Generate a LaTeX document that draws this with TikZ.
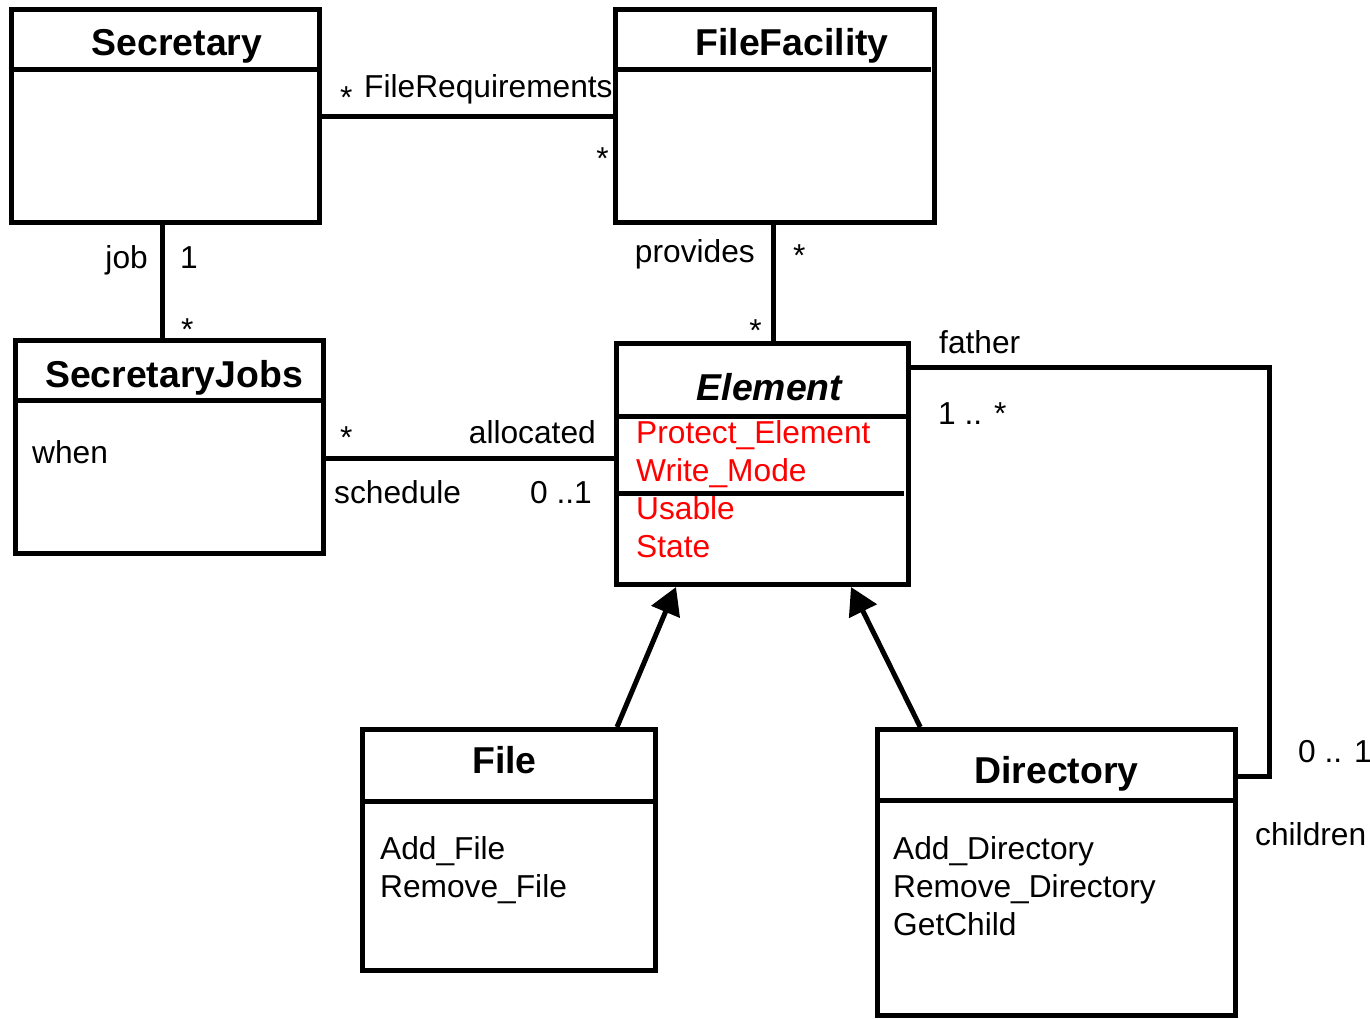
\documentclass[tikz,border=0pt]{standalone}
\usepackage{fontspec}
\setmainfont{Liberation Sans}
\usetikzlibrary{arrows.meta}
\definecolor{attrred}{RGB}{255,0,0}
\begin{document}
\begin{tikzpicture}[x=1pt,y=-1pt,
  classbox/.style={draw, rectangle, line width=5pt, inner sep=0pt},
  title/.style={font=\fontsize{37.4}{44}\selectfont\bfseries, inner sep=0pt, anchor=base},
  lbl/.style={font=\fontsize{31.7}{38}\selectfont, inner sep=0pt},
  lbll/.style={lbl, anchor=base west},
  lblr/.style={lbl, anchor=base east},
  attr/.style={lbll, text=attrred},
  rule/.style={line width=5pt},
  assoc/.style={line width=5pt, line join=miter},
  gen/.style={line width=5pt, -{Triangle[length=27pt,width=30pt]}}]

\useasboundingbox (0,0) rectangle (1370,1018);

% ---- classes ----
\node[classbox, minimum width=308.5pt, minimum height=213pt] (sec)  at (165.25,116.2) {};
\node[classbox, minimum width=319.5pt, minimum height=213pt] (ff)   at (774.75,116.2) {};
\node[classbox, minimum width=308pt,   minimum height=213pt] (sj)   at (169,446.5) {};
\node[classbox, minimum width=292pt,   minimum height=241pt] (el)   at (762,464) {};
\node[classbox, minimum width=293pt,   minimum height=240.5pt] (file) at (509,849.75) {};
\node[classbox, minimum width=358.5pt, minimum height=286pt] (dir)  at (1056.25,872.5) {};

% compartment rules
\draw[rule] (sec.west |- 0,69) -- (sec.east |- 0,69);
\draw[rule] (ff.west |- 0,69) -- (931,69);
\draw[rule] (sj.west |- 0,400) -- (sj.east |- 0,400);
\draw[rule] (el.west |- 0,416) -- (el.east |- 0,416);
\draw[rule] (el.west |- 0,493.5) -- (904,493.5);
\draw[rule] (file.west |- 0,801) -- (file.east |- 0,801);
\draw[rule] (dir.west |- 0,800.5) -- (dir.east |- 0,800.5);

% class names
\node[title] (secT)  at (177,55)    {Secretary};
\node[title] (ffT)   at (792,55)    {FileFacility};
\node[title] (sjT)   at (174,387)   {SecretaryJobs};
\node[title, font=\fontsize{37.4}{44}\selectfont\bfseries\itshape] (elT) at (769.5,400) {Element};
\node[title] (fileT) at (504.5,773) {File};
\node[title] (dirT)  at (1056.5,783) {Directory};

% attributes and operations
\node[lbll] (sjA)  at (32,463)  {when};
\node[attr] (elA1) at (636,443) {Protect\_Element};
\node[attr] (elA2) at (636,481) {Write\_Mode};
\node[attr] (elA3) at (636,519) {Usable};
\node[attr] (elA4) at (636,557) {State};
\node[lbll] (fileO1) at (380,859) {Add\_File};
\node[lbll] (fileO2) at (380,897) {Remove\_File};
\node[lbll] (dirO1)  at (893,859) {Add\_Directory};
\node[lbll] (dirO2)  at (893,897) {Remove\_Directory};
\node[lbll] (dirO3)  at (893,935) {GetChild};

% ---- associations ----
\draw[assoc] (sec.east) -- (ff.west);
\draw[assoc] (sec.south -| 162,0) -- (sj.north -| 162,0);
\draw[assoc] (ff.south -| 773,0) -- (el.north -| 773,0);
\draw[assoc] (sj.east |- 0,458) -- (el.west |- 0,458);
\coordinate (loop) at (1269.5,776.5);
\draw[assoc] (el.east |- 0,367.5) -| (loop) -- (dir.east |- loop);

% association labels
\node[lbll] (m1) at (340,108.5) {*};
\node[lbll] (r1) at (364,97)    {FileRequirements};
\node[lblr] (m2) at (609,169)   {*};
\node[lblr] (r2) at (148,268)   {job};
\node[lbll] (m3) at (180,268)   {1};
\node[lbll] (m4) at (181,340)   {*};
\node[lblr] (r3) at (755,262)   {provides};
\node[lbll] (m5) at (793,266)   {*};
\node[lblr] (m6) at (762,341)   {*};
\node[lbll] (m7) at (340,448)   {*};
\node[lblr] (r4) at (596,443)   {allocated};
\node[lbll] (r5) at (334,503)   {schedule};
\node[lbll] (m8) at (530,503)   {0 ..1};
\node[lbll] (r6) at (939,353)   {father};
\node[lbll] (m9) at (938,424)   {1 .. *};
\node[lbll] (m10) at (1298,762) {0 .. 1};
\node[lbll] (r7) at (1255,845)  {children};

% ---- generalisations ----
\draw[gen] ([xshift=108pt]file.north) -- ([xshift=-86pt]el.south);
\draw[gen] ([xshift=-136pt]dir.north) -- ([xshift=89pt]el.south);

\end{tikzpicture}
\end{document}
